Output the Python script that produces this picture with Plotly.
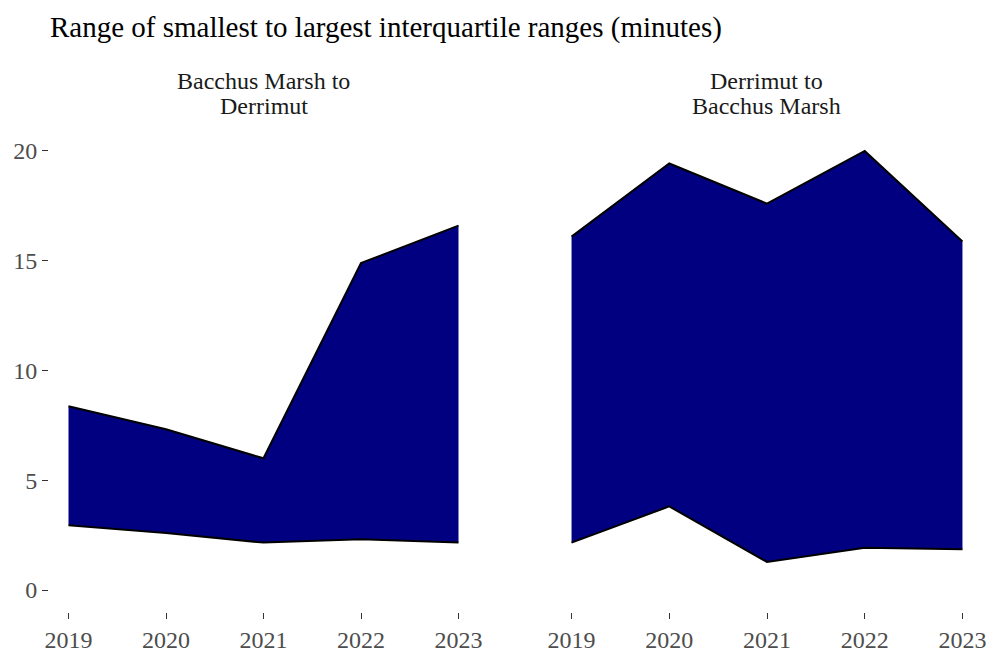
import plotly.graph_objects as go

years = [2019, 2020, 2021, 2022, 2023]
panel_lines = [["Bacchus Marsh to", "Derrimut"], ["Derrimut to", "Bacchus Marsh"]]
bm_to_d_low = [2.95, 2.6, 2.16, 2.31, 2.16]
bm_to_d_high = [8.37, 7.32, 6.0, 14.89, 16.6]
d_to_bm_low = [2.16, 3.81, 1.28, 1.93, 1.86]
d_to_bm_high = [16.1, 19.43, 17.6, 20.0, 15.88]
y_ticks = [0, 5, 10, 15, 20]

FONT = "Liberation Serif"
NAVY = "#000080"

fig = go.Figure()
data = [(bm_to_d_low, bm_to_d_high), (d_to_bm_low, d_to_bm_high)]
for i, (low, high) in enumerate(data):
    xa = "x" if i == 0 else "x2"
    ya = "y" if i == 0 else "y2"
    fig.add_trace(go.Scatter(x=years + years[::-1], y=high + low[::-1], fill="toself",
                             fillcolor=NAVY, line=dict(color=NAVY, width=0), mode="lines",
                             xaxis=xa, yaxis=ya, showlegend=False, hoverinfo="skip"))
    for series in (high, low):
        fig.add_trace(go.Scatter(x=years, y=series, mode="lines",
                                 line=dict(color="black", width=2),
                                 xaxis=xa, yaxis=ya, showlegend=False))

W, H = 989, 655
ml, mr, mt, mb = 48.5, 2.5, 128.8, 36.8
pw = W - ml - mr
ph = H - mt - mb
left_right = 477.5
right_left = 551.5
d1 = (left_right - ml) / (W - ml - 7.5)
d2 = (right_left - ml) / (W - ml - 7.5)

axis_common = dict(showgrid=False, zeroline=False, showline=False, ticks="outside",
                   ticklen=6, tickwidth=1.2, tickcolor="#333333",
                   tickfont=dict(family=FONT, size=24, color="#4d4d4d"))
fig.update_layout(
    width=W, height=H,
    margin=dict(l=ml, r=mr, t=mt, b=mb),
    paper_bgcolor="white", plot_bgcolor="white",
    title=dict(text="Range of smallest to largest interquartile ranges (minutes)",
               x=50 / W, xanchor="left", y=1 - 27 / H, yanchor="middle",
               font=dict(family=FONT, size=29, color="black")),
    xaxis=dict(domain=[0, d1], range=[2018.8, 2023.2], tickvals=years, **axis_common),
    xaxis2=dict(domain=[d2, 1], range=[2018.8, 2023.2], tickvals=years, **axis_common),
    yaxis=dict(anchor="x", range=[-1, 21], tickvals=y_ticks, **axis_common),
    yaxis2=dict(anchor="x2", range=[-1, 21], tickvals=y_ticks, showticklabels=False,
                **{k: v for k, v in axis_common.items() if k != "ticks"}, ticks=""),
)
for i, lines in enumerate(panel_lines):
    xc = (0 + d1) / 2 if i == 0 else (d2 + 1) / 2
    for j, txt in enumerate(lines):
        yc = 80 + 25 * j
        fig.add_annotation(text=txt, xref="paper", yref="paper", x=xc, y=1 + (mt - yc) / ph,
                           xanchor="center", yanchor="middle", showarrow=False,
                           font=dict(family=FONT, size=24, color="#1a1a1a"))

fig.write_html("out.html", config={"displayModeBar": False},
               post_script="document.body.style.margin='0px';")
